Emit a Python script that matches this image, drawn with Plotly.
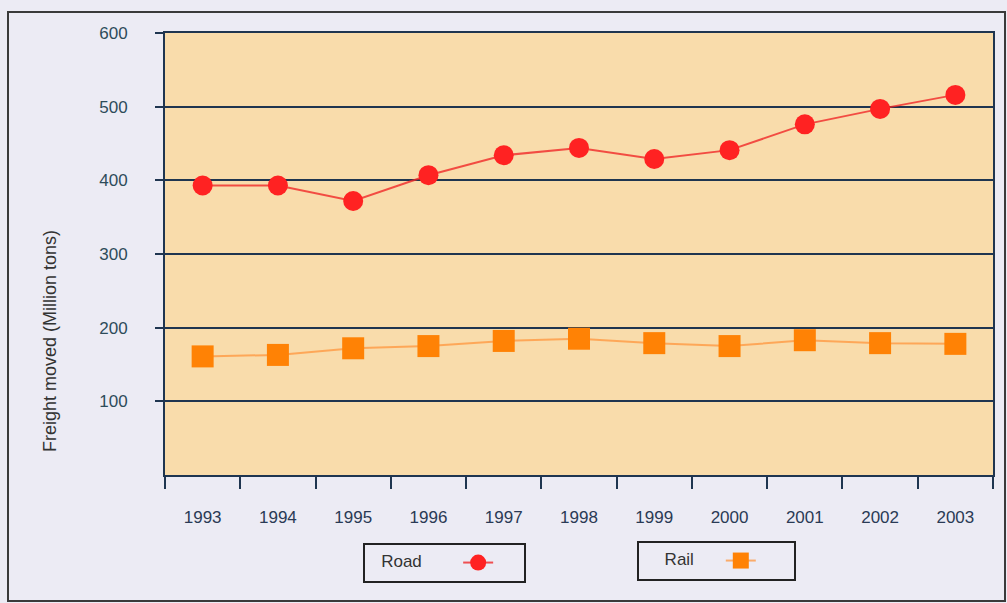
import plotly.graph_objects as go

# Freight moved by mode, million tons
years = ["1993", "1994", "1995", "1996", "1997", "1998", "1999", "2000", "2001", "2002", "2003"]
road = [393, 393, 372, 407, 434, 444, 429, 441, 476, 497, 516]
rail = [161, 163, 172, 175, 182, 185, 179, 175, 183, 179, 178]
y_ticks = [100, 200, 300, 400, 500, 600]

NAVY = "#1f3550"
PAGE = "#ecebf4"
PLOT = "#f9dcab"
FONT = "Liberation Sans, Arial, sans-serif"
SP = "&nbsp;"

fig = go.Figure()
fig.add_trace(go.Scatter(
    x=years, y=road, name=" ", mode="lines+markers",
    line=dict(color="rgba(240,40,40,0.8)", width=2),
    marker=dict(symbol="circle", size=20, color="#ff2222"),
    legend="legend", hovertemplate="Road %{x}: %{y}<extra></extra>",
))
fig.add_trace(go.Scatter(
    x=years, y=rail, name=" ", mode="lines+markers",
    line=dict(color="rgba(255,150,60,0.75)", width=2),
    marker=dict(symbol="square", size=22, color="#ff8205"),
    legend="legend2", hovertemplate="Rail %{x}: %{y}<extra></extra>",
))

W, H = 1007, 603
ml, mr, mt, mb = 165, 14, 33, 128
pw, ph = W - ml - mr, H - mt - mb


def px(xp):
    return (xp - ml) / pw


def py(yp):
    return (H - mb - yp) / ph


legend_font = dict(family=FONT, size=17, color="#333333")
legend_common = dict(
    orientation="h", xanchor="left", yanchor="top",
    bgcolor=PAGE, bordercolor="#222222", borderwidth=2,
    font=legend_font, itemwidth=30,
)

fig.update_layout(
    width=W, height=H,
    margin=dict(l=ml, r=mr, t=mt, b=mb),
    paper_bgcolor=PAGE, plot_bgcolor=PLOT,
    font=dict(family=FONT),
    showlegend=True,
    legend=dict(legend_common, x=px(363), y=py(543), entrywidth=20,
                title=dict(text=SP * 3 + "Road" + SP * 6, side="left", font=legend_font)),
    legend2=dict(legend_common, x=px(637), y=py(541), entrywidth=28,
                 title=dict(text=SP * 5 + "Rail" + SP * 4, side="left", font=legend_font)),
    xaxis=dict(
        type="category", range=[-0.5, len(years) - 0.5],
        tickson="boundaries", ticks="outside", ticklen=12, tickwidth=2, tickcolor=NAVY,
        showgrid=False, showline=True, linecolor=NAVY, linewidth=2, mirror=True,
        tickfont=dict(family=FONT, size=17, color="#2a3a55"),
        ticklabelstandoff=26,
    ),
    yaxis=dict(
        range=[0, 600], tickvals=y_ticks,
        ticks="outside", ticklen=8, tickwidth=2, tickcolor=NAVY,
        showgrid=True, gridcolor=NAVY, gridwidth=2,
        showline=True, linecolor=NAVY, linewidth=2, mirror=True,
        zeroline=False,
        tickfont=dict(family=FONT, size=17, color="#2e4c5a"),
        ticklabelstandoff=24,
    ),
    shapes=[dict(
        type="rect", xref="paper", yref="paper",
        x0=px(8), x1=px(1005), y0=py(601), y1=py(12),
        line=dict(color="#3a3a3a", width=2), layer="below",
    )],
    annotations=[dict(
        text="Freight moved (Million tons)", textangle=-90,
        xref="paper", yref="paper", x=px(50), y=py(341),
        xanchor="center", yanchor="middle",
        showarrow=False, font=dict(family=FONT, size=18, color="#333333"),
    )],
)

fig.write_html("out.html")
